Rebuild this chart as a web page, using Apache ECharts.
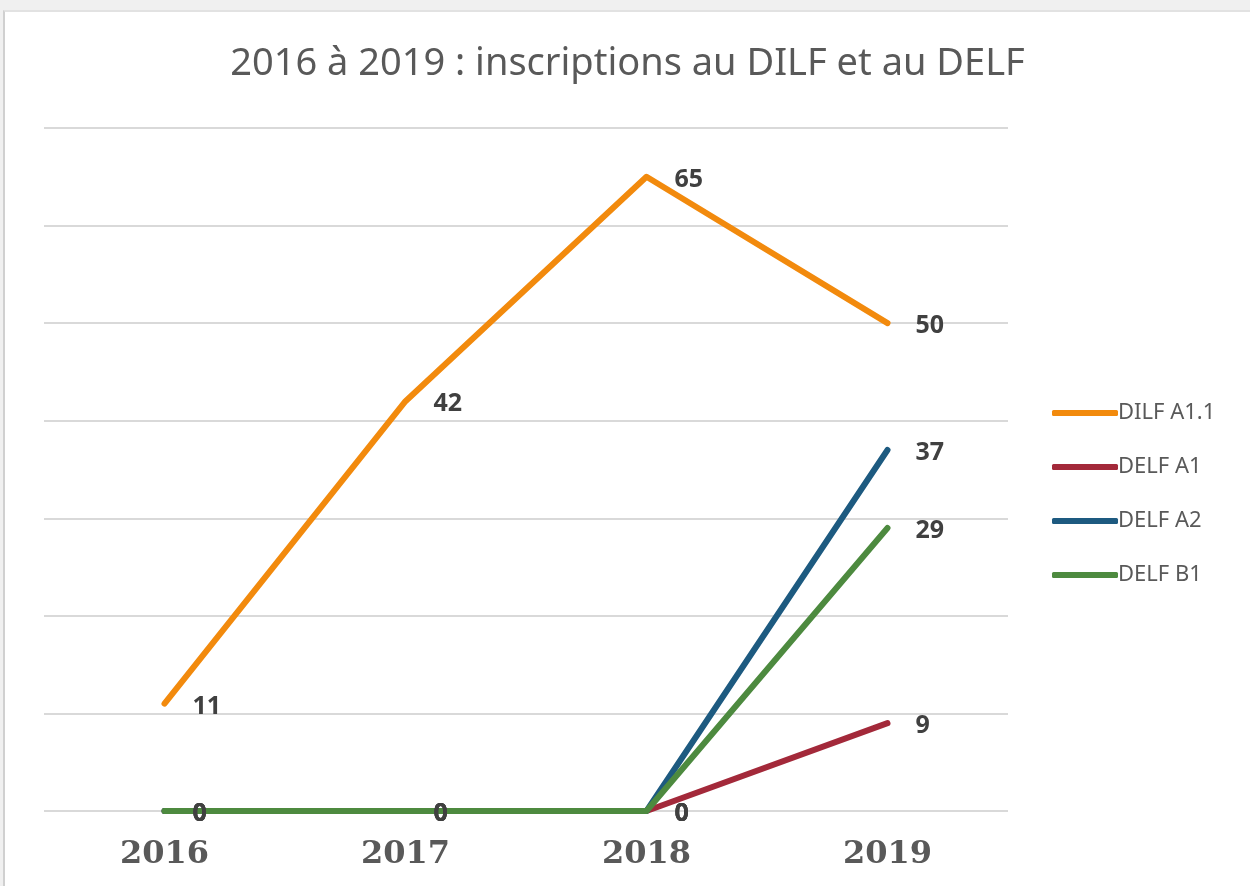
<!DOCTYPE html>
<html>
<head>
<meta charset="utf-8">
<script src="https://cdn.jsdelivr.net/npm/echarts@6/dist/echarts.min.js"></script>
<style>
  html, body { margin: 0; padding: 0; background: #f0f0f0; }
  #frame { position: absolute; left: 3px; top: 10px; width: 1247px; height: 876px; background: #fff; border-left: 2px solid #d0d0d0; border-top: 2px solid #e2e2e2; }
  #chart { width: 1245px; height: 874px; }
</style>
</head>
<body>
<div id="frame"><div id="chart"></div></div>
<script>
// données
const years = ['2016', '2017', '2018', '2019']
const dilfA11 = [11, 42, 65, 50]
const delfA1 = [0, 0, 0, 9]
const delfA2 = [0, 0, 0, 37]
const delfB1 = [0, 0, 0, 29]

const seriesNames = ['DILF A1.1', 'DELF A1', 'DELF A2', 'DELF B1']
const seriesData = [dilfA11, delfA1, delfA2, delfB1]
const colors = ['#f28a0d', '#a3293a', '#1d5a80', '#4d8a3f']

const myChart = echarts.init(document.getElementById('chart'))

const option = {
  animation: false,
  title: {
    text: '2016 à 2019 : inscriptions au DILF et au DELF',
    left: 'center',
    top: 28,
    textStyle: { color: '#595959', fontSize: 38, fontWeight: 'normal', fontFamily: 'Noto Sans' }
  },
  legend: {
    orient: 'vertical',
    left: 1042,
    top: 385,
    itemWidth: 66,
    itemHeight: 6,
    itemGap: 32,
    icon: 'roundRect',
    data: seriesNames,
    textStyle: { color: '#595959', fontSize: 22, fontFamily: 'Noto Sans', padding: [0, 0, 0, -5] }
  },
  grid: { left: 39, right: 242, top: 116, bottom: 75 },
  xAxis: {
    type: 'category',
    data: years,
    axisLine: { show: false },
    axisTick: { show: false },
    axisLabel: { color: '#595959', fontSize: 32, fontWeight: 'bold', fontFamily: 'DejaVu Serif', margin: 28 }
  },
  yAxis: {
    type: 'value',
    min: 0,
    max: 70,
    interval: 10,
    axisLabel: { show: false },
    axisLine: { show: false },
    axisTick: { show: false },
    splitLine: { lineStyle: { color: '#d9d9d9', width: 2 } }
  },
  series: seriesNames.map((name, i) => ({
    name: name,
    type: 'line',
    data: seriesData[i],
    symbol: 'circle',
    symbolSize: 0,
    color: colors[i],
    lineStyle: { width: 6, cap: 'round', join: 'round' },
    label: {
      show: true,
      position: 'right',
      distance: 28,
      offset: [0, 3],
      color: '#404040',
      fontSize: 25,
      fontWeight: 'bold',
      fontFamily: 'Open Sans'
    }
  }))
}

myChart.setOption(option)
</script>
</body>
</html>
